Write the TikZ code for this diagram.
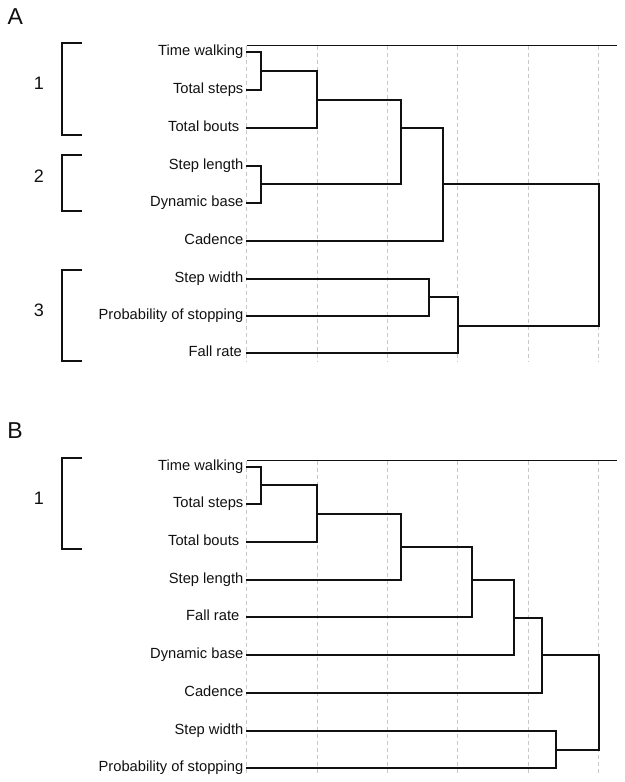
\documentclass[tikz,border=0pt]{standalone}
\usepackage{fontspec}
\setmainfont{Liberation Sans}
\definecolor{gridgrey}{HTML}{C8C8C8}
\definecolor{inkblack}{HTML}{111111}
\tikzset{
  leaf/.style={anchor=mid east, inner sep=0pt, yshift=-0.9pt, text=inkblack, font=\fontsize{14.7}{17}\selectfont},
  grp/.style={inner sep=0pt, text=inkblack, font=\fontsize{18}{20}\selectfont},
  panel/.style={inner sep=0pt, text=inkblack, font=\fontsize{23}{25}\selectfont},
  dendro/.style={draw=inkblack, line width=2.2pt, line cap=rect},
  bracketline/.style={draw=inkblack, line width=2.2pt},
  axisline/.style={draw=inkblack, line width=1.1pt},
  gridline/.style={draw=gridgrey, line width=0.8pt, dash pattern=on 4pt off 3pt},
}
\begin{document}
\begin{tikzpicture}[x=1pt,y=-1pt]
\useasboundingbox (0,0) rectangle (624,782);
\fill[white] (0,0) rectangle (624,782);

% ================= Panel A =================
\node[panel] (pA) at (15.3,16.5) {A};
\foreach \gx in {246.7,317,387.7,457.7,528.3,598.7}
  \draw[gridline] (\gx,45.7) -- (\gx,361.7);
\coordinate (axAl) at (246.7,45.7);
\coordinate (axAr) at (617,45.7);
\draw[axisline] (axAl) -- (axAr);

% brackets A
\draw[bracketline] (81.7,43.3) -| (62.3,135) -- (81.7,135);
\draw[bracketline] (81.7,155) -| (62.3,210.7) -- (81.7,210.7);
\draw[bracketline] (81.7,270) -| (62.3,361) -- (81.7,361);
\node[grp] (gA1) at (39,83.3) {1};
\node[grp] (gA2) at (39,176.7) {2};
\node[grp] (gA3) at (39,310) {3};

% leaves A
\node[leaf] (Atw)  at (243.5,52.3)  {Time walking};
\node[leaf] (Ats)  at (243.5,90.3)  {Total steps};
\node[leaf] (Atb)  at (239.5,127.7) {Total bouts};
\node[leaf] (Asl)  at (243.5,165.7) {Step length};
\node[leaf] (Adb)  at (243.5,203)   {Dynamic base};
\node[leaf] (Acad) at (243.5,240.7) {Cadence};
\node[leaf] (Asw)  at (243.5,278.7) {Step width};
\node[leaf] (Aps)  at (243.5,316.3) {Probability of stopping};
\node[leaf] (Afr)  at (242,353.3)   {Fall rate};

\coordinate (LAtw)  at (246.7,52.3);
\coordinate (LAts)  at (246.7,90.3);
\coordinate (LAtb)  at (246.7,127.7);
\coordinate (LAsl)  at (246.7,165.7);
\coordinate (LAdb)  at (246.7,203);
\coordinate (LAcad) at (246.7,240.7);
\coordinate (LAsw)  at (246.7,278.7);
\coordinate (LAps)  at (246.7,316.3);
\coordinate (LAfr)  at (246.7,353.3);

\coordinate (a1) at (260.7,71.3);
\coordinate (a2) at (317,99.7);
\coordinate (a3) at (260.7,184.3);
\coordinate (a4) at (401.3,128);
\coordinate (a5) at (443.3,184.3);
\coordinate (a6) at (429.3,297.3);
\coordinate (a7) at (457.7,325.7);
\coordinate (a8) at (598.7,255);

\draw[dendro] (LAtw) -| (a1) |- (LAts);
\draw[dendro] (a1) -| (a2) |- (LAtb);
\draw[dendro] (LAsl) -| (a3) |- (LAdb);
\draw[dendro] (a2) -| (a4) |- (a3);
\draw[dendro] (a4) -| (a5) |- (LAcad);
\draw[dendro] (LAsw) -| (a6) |- (LAps);
\draw[dendro] (a6) -| (a7) |- (LAfr);
\draw[dendro] (a5) -| (a8) |- (a7);

% ================= Panel B =================
\node[panel] (pB) at (15,431) {B};
\foreach \gx in {246.7,317,387.7,457.7,528.3,598.7}
  \draw[gridline] (\gx,460.7) -- (\gx,775);
\coordinate (axBl) at (246.7,460.7);
\coordinate (axBr) at (617,460.7);
\draw[axisline] (axBl) -- (axBr);

\draw[bracketline] (81.7,458.3) -| (62.3,549) -- (81.7,549);
\node[grp] (gB1) at (39,498.3) {1};

\node[leaf] (Btw)  at (243.5,466.7) {Time walking};
\node[leaf] (Bts)  at (243.5,504)   {Total steps};
\node[leaf] (Btb)  at (239.5,541.7) {Total bouts};
\node[leaf] (Bsl)  at (243.5,579.7) {Step length};
\node[leaf] (Bfr)  at (239.5,617.3) {Fall rate};
\node[leaf] (Bdb)  at (243.5,655)   {Dynamic base};
\node[leaf] (Bcad) at (243.5,692.7) {Cadence};
\node[leaf] (Bsw)  at (243.5,730.7) {Step width};
\node[leaf] (Bps)  at (243.5,768.3) {Probability of stopping};

\coordinate (LBtw)  at (246.7,466.7);
\coordinate (LBts)  at (246.7,504);
\coordinate (LBtb)  at (246.7,541.7);
\coordinate (LBsl)  at (246.7,579.7);
\coordinate (LBfr)  at (246.7,617.3);
\coordinate (LBdb)  at (246.7,655);
\coordinate (LBcad) at (246.7,692.7);
\coordinate (LBsw)  at (246.7,730.7);
\coordinate (LBps)  at (246.7,768.3);

\coordinate (b1) at (260.7,485.3);
\coordinate (b2) at (317,514);
\coordinate (b3) at (401.3,547);
\coordinate (b4) at (471.7,580.3);
\coordinate (b5) at (513.7,617.7);
\coordinate (b6) at (542,655.3);
\coordinate (b7) at (555.7,749.7);
\coordinate (b8) at (598.7,700);

\draw[dendro] (LBtw) -| (b1) |- (LBts);
\draw[dendro] (b1) -| (b2) |- (LBtb);
\draw[dendro] (b2) -| (b3) |- (LBsl);
\draw[dendro] (b3) -| (b4) |- (LBfr);
\draw[dendro] (b4) -| (b5) |- (LBdb);
\draw[dendro] (b5) -| (b6) |- (LBcad);
\draw[dendro] (LBsw) -| (b7) |- (LBps);
\draw[dendro] (b6) -| (b8) |- (b7);
\end{tikzpicture}
\end{document}
